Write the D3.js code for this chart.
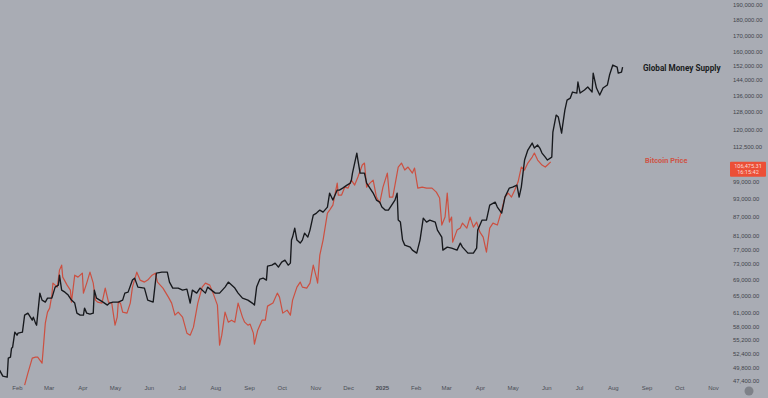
<!DOCTYPE html>
<html>
<head>
<meta charset="utf-8">
<script src="https://cdn.jsdelivr.net/npm/d3@7"></script>
<style>
  html, body { margin: 0; padding: 0; background: #a9acb4; }
  svg { display: block; }
</style>
</head>
<body>
<div id="chart"></div>
<script>
// Global money supply (shifted)
const gmsDates = [
  "2024-01-16","2024-01-19","2024-01-23","2024-01-24","2024-01-26","2024-01-27","2024-01-28","2024-01-30",
  "2024-02-01","2024-02-02","2024-02-06","2024-02-08","2024-02-11","2024-02-15","2024-02-16","2024-02-18",
  "2024-02-19","2024-02-22","2024-02-24","2024-02-27","2024-02-29","2024-03-04","2024-03-07","2024-03-10",
  "2024-03-11","2024-03-13","2024-03-16","2024-03-19","2024-03-22","2024-03-25","2024-03-27","2024-03-30",
  "2024-04-02","2024-04-03","2024-04-05","2024-04-08","2024-04-11","2024-04-12","2024-04-14","2024-04-17",
  "2024-04-20","2024-04-24","2024-04-26","2024-04-29","2024-05-04","2024-05-08","2024-05-10","2024-05-13",
  "2024-05-17","2024-05-19","2024-05-22","2024-05-28","2024-05-31","2024-06-05","2024-06-08","2024-06-13",
  "2024-06-18","2024-06-20","2024-06-23","2024-06-28","2024-07-02","2024-07-06","2024-07-09","2024-07-11",
  "2024-07-15","2024-07-18","2024-07-23","2024-07-25","2024-08-01","2024-08-05","2024-08-10","2024-08-13",
  "2024-08-16","2024-08-19","2024-08-22","2024-08-26","2024-08-31","2024-09-04","2024-09-06","2024-09-08",
  "2024-09-11","2024-09-14","2024-09-17","2024-09-18","2024-09-22","2024-09-25","2024-09-28","2024-10-01",
  "2024-10-04","2024-10-07","2024-10-09","2024-10-10","2024-10-11","2024-10-13","2024-10-15","2024-10-18",
  "2024-10-20","2024-10-22","2024-10-25","2024-10-27","2024-10-30","2024-11-02","2024-11-05","2024-11-08",
  "2024-11-12","2024-11-14","2024-11-17","2024-11-21","2024-11-23","2024-11-26","2024-11-30","2024-12-03",
  "2024-12-04","2024-12-05","2024-12-09","2024-12-10","2024-12-12","2024-12-16","2024-12-18","2024-12-21",
  "2024-12-24","2024-12-27","2024-12-30","2025-01-01","2025-01-04","2025-01-07","2025-01-10","2025-01-13",
  "2025-01-15","2025-01-16","2025-01-18","2025-01-20","2025-01-22","2025-01-27","2025-01-29","2025-02-02",
  "2025-02-05","2025-02-08","2025-02-11","2025-02-14","2025-02-19","2025-02-21","2025-02-25","2025-02-26",
  "2025-03-02","2025-03-06","2025-03-11","2025-03-14","2025-03-16","2025-03-21","2025-03-26","2025-03-29",
  "2025-03-30","2025-04-03","2025-04-07","2025-04-10","2025-04-15","2025-04-17","2025-04-21","2025-04-24",
  "2025-04-28","2025-05-01","2025-05-05","2025-05-07","2025-05-09","2025-05-12","2025-05-15","2025-05-19",
  "2025-05-21","2025-05-24","2025-05-26","2025-05-28","2025-05-31","2025-06-02","2025-06-06","2025-06-07",
  "2025-06-10","2025-06-12","2025-06-15","2025-06-16","2025-06-18","2025-06-20","2025-06-23","2025-06-25",
  "2025-06-29","2025-06-30","2025-07-02","2025-07-06","2025-07-09","2025-07-13","2025-07-14","2025-07-17",
  "2025-07-20","2025-07-23","2025-07-27","2025-07-29","2025-08-01","2025-08-05","2025-08-06","2025-08-09",
  "2025-08-10"
]
const gmsValues = [
  49330,48250,48070,51570,51760,53510,53710,56770,
  56140,56560,56770,60450,60900,59340,60010,58690,
  58250,65570,63900,63430,64370,64370,67040,67540,
  70070,66300,65810,65090,63900,63200,60900,60450,
  60450,62040,60900,60680,60900,66300,64370,63900,
  63430,62730,63200,63430,63430,63900,65570,65810,
  68800,69300,67040,66800,63900,63430,70590,70850,
  70850,68290,66800,66800,66300,66550,63200,66300,
  65570,66800,65570,67040,65570,65570,67040,68290,
  67540,66800,65570,64370,63900,63200,62730,67040,
  69050,69300,68800,72450,72710,73250,72180,73520,
  74070,72710,73250,79750,80640,83370,79750,78870,
  79750,81840,80640,82750,87470,88120,89100,88440,
  90090,94870,92450,95930,95930,96640,97720,98440,
  99540,102150,109970,107180,102150,102150,98440,96640,
  94870,92450,91770,90090,89100,89100,90760,92450,
  94870,85870,85240,79750,78290,77720,76860,76010,
  79750,86510,85240,85870,85240,82750,80640,76860,
  77720,77430,76860,78870,77720,76010,76010,77430,
  82750,85870,85870,90760,91770,90090,88120,93480,
  96640,97000,97720,93480,97000,107180,111200,114120,
  112030,113280,112030,109970,108360,107180,108360,118850,
  126540,125610,118410,121960,128900,133760,134750,137770,
  137260,142960,137260,138790,140340,137770,147780,139830,
  136250,139830,141380,146690,152220,151100,147780,148330,
  151100
]

// Bitcoin price
const btcDates = [
  "2024-02-08","2024-02-11","2024-02-15","2024-02-18","2024-02-20","2024-02-24","2024-02-25","2024-02-27",
  "2024-02-29","2024-03-02","2024-03-04","2024-03-05","2024-03-09","2024-03-11","2024-03-13","2024-03-14",
  "2024-03-18","2024-03-21","2024-03-22","2024-03-25","2024-03-28","2024-04-01","2024-04-02","2024-04-05",
  "2024-04-08","2024-04-11","2024-04-13","2024-04-15","2024-04-19","2024-04-22","2024-04-25","2024-04-28",
  "2024-05-01","2024-05-03","2024-05-04","2024-05-06","2024-05-08","2024-05-12","2024-05-15","2024-05-17",
  "2024-05-21","2024-05-24","2024-05-28","2024-05-31","2024-06-04","2024-06-07","2024-06-09","2024-06-14",
  "2024-06-19","2024-06-22","2024-06-25","2024-06-28","2024-07-02","2024-07-06","2024-07-09","2024-07-12",
  "2024-07-16","2024-07-20","2024-07-23","2024-07-27","2024-07-30","2024-08-03","2024-08-05","2024-08-07",
  "2024-08-10","2024-08-13","2024-08-16","2024-08-19","2024-08-22","2024-08-26","2024-08-28","2024-08-31",
  "2024-09-02","2024-09-05","2024-09-06","2024-09-09","2024-09-13","2024-09-16","2024-09-18","2024-09-23",
  "2024-09-27","2024-09-29","2024-10-02","2024-10-06","2024-10-09","2024-10-11","2024-10-15","2024-10-18",
  "2024-10-20","2024-10-24","2024-10-27","2024-10-30","2024-11-02","2024-11-03","2024-11-05","2024-11-08",
  "2024-11-12","2024-11-14","2024-11-17","2024-11-21","2024-11-22","2024-11-25","2024-11-28","2024-12-01",
  "2024-12-04","2024-12-07","2024-12-10","2024-12-14","2024-12-16","2024-12-18","2024-12-21","2024-12-24",
  "2024-12-27","2024-12-30","2025-01-02","2025-01-06","2025-01-08","2025-01-11","2025-01-15","2025-01-16",
  "2025-01-19","2025-01-22","2025-01-25","2025-01-29","2025-01-31","2025-02-03","2025-02-07","2025-02-11",
  "2025-02-16","2025-02-20","2025-02-23","2025-02-25","2025-02-28","2025-03-02","2025-03-04","2025-03-06",
  "2025-03-07","2025-03-11","2025-03-14","2025-03-16","2025-03-20","2025-03-23","2025-03-26","2025-03-29",
  "2025-04-01","2025-04-04","2025-04-07","2025-04-10","2025-04-13","2025-04-17","2025-04-21","2025-04-24",
  "2025-04-27","2025-04-30","2025-05-03","2025-05-06","2025-05-09","2025-05-12","2025-05-15","2025-05-19",
  "2025-05-21","2025-05-24","2025-05-28","2025-05-31","2025-06-02","2025-06-05"
]
const btcValues = [
  46680,48790,51570,51760,51760,50630,53120,58690,
  61130,62040,65090,68040,67040,71380,72710,69560,
  67540,66300,63430,70070,69560,70590,65570,68040,
  70850,68040,63900,63430,63200,66800,63430,63200,
  58250,60010,63430,63200,61130,60900,63200,67040,
  70850,68800,68290,68800,70070,70590,68290,66800,
  64610,63200,60450,61130,60010,56560,56140,57830,
  63200,67040,68040,67540,65570,62730,54110,56140,
  61130,58900,59340,58900,63200,60010,58900,58250,
  58470,56560,54310,57190,59340,59340,62500,63200,
  65570,64610,60900,61580,60450,63900,67040,68290,
  67040,66800,68040,72710,69300,68040,75450,79750,
  88120,89100,90760,98440,94170,94170,97000,96640,
  99540,97720,100650,105220,106000,97000,98440,99540,
  93480,91430,97000,102150,93480,93480,102150,104440,
  106000,103290,104440,102150,104060,96640,97000,96640,
  96640,95220,93140,84300,86830,94870,85240,86830,
  79160,82750,83370,84920,83370,86830,83680,85240,
  82140,80640,76290,83370,84920,84300,89100,93480,
  94870,93480,95930,98810,104440,103290,106000,108360,
  109970,107180,105220,104440,105220,106475.31
]

const yTicks = [190000, 180000, 170000, 160000, 152000, 144000, 136000, 128000, 120000, 112500,
  99000, 93000, 87000, 81000, 77000, 73000, 69000, 65000, 61000, 58000, 55200, 52400, 49800, 47400]

const lastPrice = 106475.31
const lastTime = "16:15:42"

const width = 768
const height = 398
const bg = "#a9acb4"
const black = "#17191d"
const red = "#cc5041"

const parse = d3.utcParse("%Y-%m-%d")
const gms = gmsDates.map((d, i) => ({ date: parse(d), value: gmsValues[i] }))
const btc = btcDates.map((d, i) => ({ date: parse(d), value: btcValues[i] }))

const x = d3.scaleUtc()
  .domain([parse("2024-02-01"), parse("2025-11-01")])
  .range([17, 713])

const y = d3.scaleLog()
  .domain([47400, 190000])
  .range([381, 5])

const svg = d3.select("#chart").append("svg")
  .attr("width", width)
  .attr("height", height)
  .attr("font-family", "Roboto, 'Noto Sans', sans-serif")

svg.append("rect")
  .attr("width", width)
  .attr("height", height)
  .attr("fill", bg)

svg.append("clipPath").attr("id", "plot")
  .append("rect").attr("x", 0).attr("y", 0).attr("width", 726).attr("height", 388)

const line = d3.line()
  .x(d => x(d.date))
  .y(d => y(d.value))

const plot = svg.append("g").attr("clip-path", "url(#plot)")

plot.append("path")
  .datum(btc)
  .attr("fill", "none")
  .attr("stroke", red)
  .attr("stroke-width", 1.2)
  .attr("stroke-linejoin", "round")
  .attr("d", line)

plot.append("path")
  .datum(gms)
  .attr("fill", "none")
  .attr("stroke", black)
  .attr("stroke-width", 1.35)
  .attr("stroke-linejoin", "round")
  .attr("d", line)

// right price scale
const yAxis = svg.append("g")
  .attr("transform", "translate(733,0)")
  .call(d3.axisRight(y)
    .tickValues(yTicks)
    .tickSize(0)
    .tickPadding(0)
    .tickFormat(d3.format(",.2f")))

yAxis.select(".domain").remove()
yAxis.selectAll("text")
  .attr("fill", "#41444b")
  .attr("font-size", 5.9)

// bottom time scale
const xAxis = svg.append("g")
  .attr("transform", "translate(0,385)")
  .call(d3.axisBottom(x)
    .ticks(d3.utcMonth.every(1))
    .tickSize(0)
    .tickPadding(0)
    .tickFormat(d => d.getUTCMonth() === 0 ? d3.utcFormat("%Y")(d) : d3.utcFormat("%b")(d)))

xAxis.select(".domain").remove()
xAxis.selectAll("text")
  .attr("fill", "#4a4d54")
  .attr("font-size", 6)
  .attr("dy", "0.9em")
  .attr("font-weight", d => d.getUTCMonth() === 0 ? "bold" : null)

// last price tag
const tagY = y(lastPrice)
const tag = svg.append("g").attr("transform", `translate(730,${tagY})`)
tag.append("rect")
  .attr("width", 36)
  .attr("height", 15)
  .attr("rx", 1)
  .attr("fill", "#ec4f37")
tag.append("text")
  .attr("x", 18).attr("y", 6)
  .attr("text-anchor", "middle")
  .attr("font-size", 5.6)
  .attr("fill", "#fbd9d2")
  .text(d3.format(",.2f")(lastPrice))
tag.append("text")
  .attr("x", 18).attr("y", 12.5)
  .attr("text-anchor", "middle")
  .attr("font-size", 5.6)
  .attr("fill", "#fbd9d2")
  .text(lastTime)

// series labels
svg.append("text")
  .attr("x", 643).attr("y", 71)
  .attr("font-size", 8.2)
  .attr("font-weight", "bold")
  .attr("fill", "#1b1d22")
  .text("Global Money Supply")

svg.append("text")
  .attr("x", 645).attr("y", 163)
  .attr("font-size", 7.4)
  .attr("font-weight", "bold")
  .attr("fill", "#cf5446")
  .text("Bitcoin Price")

// settings dot, bottom right
svg.append("circle")
  .attr("cx", 749).attr("cy", 391)
  .attr("r", 4.5)
  .attr("fill", "#7e8188")
</script>
</body>
</html>
